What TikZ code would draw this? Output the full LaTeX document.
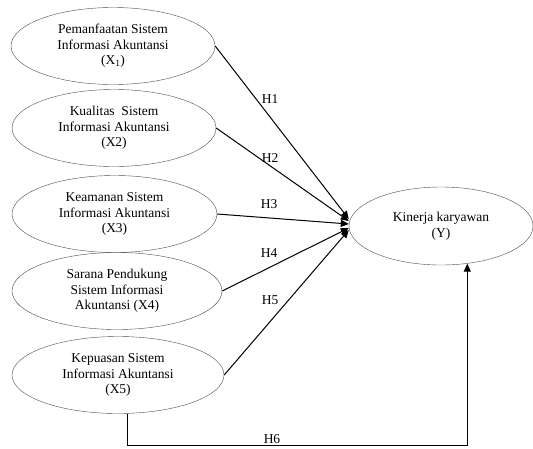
\documentclass[tikz,border=0pt]{standalone}
\usepackage{fontspec}
\setmainfont{Liberation Serif}
\usetikzlibrary{shapes.geometric,arrows.meta}

\tikzset{
  var/.style = {draw, ellipse, line width=0.4pt, draw=black!70, align=center,
                minimum height=77pt, inner sep=0pt, font=\fontsize{13.5}{15.5}\selectfont},
  arr/.style = {line width=1pt, -{Triangle[length=8pt,width=7pt]}},
  hyp/.style = {font=\fontsize{13.5}{15.5}\selectfont}
}

\begin{document}
\begin{tikzpicture}[x = 1pt, y = -1pt]
\useasboundingbox (0, 0) rectangle (533, 448);
\node[var, minimum width = 204pt] (x1) at (113, 46) {Pemanfaatan Sistem\\Informasi Akuntansi\\(X\textsubscript{1})};
\node[var, minimum width = 204pt] (x2) at (114, 128) {Kualitas\ \ Sistem\\Informasi Akuntansi\\(X2)};
\node[var, minimum width = 205pt] (x3) at (114.5, 214) {Keamanan Sistem\\Informasi Akuntansi\\(X3)};
\node[var, minimum width = 210pt] (x4) at (117, 291) {Sarana Pendukung\\Sistem Informasi\\Akuntansi (X4)};
\node[var, minimum width = 212pt] (x5) at (118, 375) {Kepuasan Sistem\\Informasi Akuntansi\\(X5)};
\node[var, minimum width = 184pt, minimum height = 78pt] (y) at (441, 226) {Kinerja karyawan\\(Y)};
% hypotheses
\draw[arr] (x1.east) -- ([yshift=7pt]y.west);
\draw[arr] (x2.east) -- ([yshift=5pt]y.west);
\draw[arr] (x3.east) -- ([yshift=2pt]y.west);
\draw[arr] (x4.east) -- ([yshift=-2pt]y.west);
\draw[arr] (x5.east) -- ([yshift=-4pt]y.west);
\draw[arr] ([xshift=9pt]x5.south) -- ++(0, 32) -| (y.-55);
\node[hyp] (h1) at (270, 99) {H1};
\node[hyp] (h2) at (270, 158) {H2};
\node[hyp] (h3) at (269, 204) {H3};
\node[hyp] (h4) at (269, 253) {H4};
\node[hyp] (h5) at (270, 300) {H5};
\node[hyp] (h6) at (272, 439) {H6};
\end{tikzpicture}
\end{document}
